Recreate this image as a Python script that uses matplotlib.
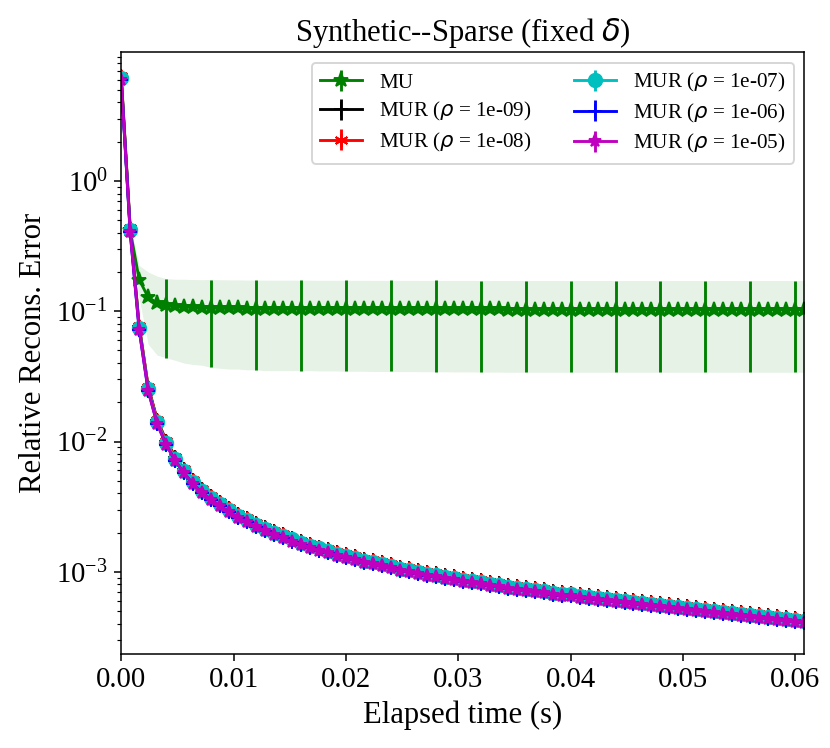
import numpy as np
import matplotlib.pyplot as plt

plt.rcParams['font.family'] = ['Liberation Serif', 'DejaVu Serif']
plt.rcParams['mathtext.fontset'] = 'dejavusans'

# time step between iterations (s) and iteration count
dt = 0.0008
n_iter = 77

# MU: mean and std of relative reconstruction error
mu_mean = [6.2, 0.42, 0.175, 0.128, 0.116, 0.111, 0.109, 0.108, 0.107, 0.1065,
           0.106, 0.1055, 0.105, 0.105, 0.1045, 0.1045, 0.104, 0.104, 0.104, 0.104,
           0.104, 0.104, 0.1038, 0.1038, 0.1038, 0.1036, 0.1036, 0.1036, 0.1035, 0.1035,
           0.1035, 0.1034, 0.1034, 0.1034, 0.1033, 0.1033, 0.1033, 0.1032, 0.1032, 0.1032,
           0.1031, 0.1031, 0.1031, 0.103, 0.103, 0.103, 0.103, 0.103, 0.103, 0.103,
           0.103, 0.103, 0.103, 0.103, 0.103, 0.103, 0.103, 0.103, 0.103, 0.103,
           0.103, 0.103, 0.103, 0.103, 0.103, 0.103, 0.103, 0.103, 0.103, 0.103,
           0.103, 0.103, 0.103, 0.103, 0.103, 0.103, 0.103]
mu_std = [0.0, 0.03, 0.05, 0.072, 0.07, 0.067, 0.067, 0.068, 0.068, 0.068,
          0.069, 0.069, 0.069, 0.069, 0.069, 0.069, 0.069, 0.069, 0.069, 0.069,
          0.069, 0.069, 0.069, 0.069, 0.069, 0.069, 0.069, 0.069, 0.069, 0.069,
          0.069, 0.069, 0.069, 0.069, 0.069, 0.069, 0.069, 0.069, 0.069, 0.069,
          0.069, 0.069, 0.069, 0.069, 0.069, 0.069, 0.069, 0.069, 0.069, 0.069,
          0.069, 0.069, 0.069, 0.069, 0.069, 0.069, 0.069, 0.069, 0.069, 0.069,
          0.069, 0.069, 0.069, 0.069, 0.069, 0.069, 0.069, 0.069, 0.069, 0.069,
          0.069, 0.069, 0.069, 0.069, 0.069, 0.069, 0.069]

# MUR: mean error (curves for all rho nearly coincide)
mur_mean = [6.2, 0.42, 0.075, 0.0255, 0.0142, 0.0098, 0.0074, 0.0059, 0.0049, 0.0042,
            0.0037, 0.0033, 0.0030, 0.0027, 0.00248, 0.00230, 0.00214, 0.00200, 0.00188, 0.00177,
            0.00167, 0.00159, 0.00151, 0.00144, 0.00138, 0.00132, 0.00127, 0.00122, 0.00118, 0.00114,
            0.00110, 0.00106, 0.00103, 0.00100, 0.00097, 0.00094, 0.00092, 0.00089, 0.00087, 0.00085,
            0.00083, 0.00081, 0.00079, 0.00077, 0.00075, 0.00074, 0.00072, 0.00071, 0.00069, 0.00068,
            0.000670, 0.000657, 0.000645, 0.000633, 0.000621, 0.000609, 0.000598, 0.000587, 0.000576, 0.000565,
            0.000555, 0.000545, 0.000535, 0.000525, 0.000516, 0.000507, 0.000498, 0.000489, 0.000481, 0.000473,
            0.000465, 0.000457, 0.000449, 0.000441, 0.000434, 0.000427, 0.000420]

rhos = ['1e-09', '1e-08', '1e-07', '1e-06', '1e-05']
rho_ratio = [1.035, 1.035, 1.0, 0.965, 0.965]  # slight vertical spread between rho curves
rho_colors = ['k', 'r', 'c', 'b', 'm']
rho_markers = ['+', (6, 2, 0), 'o', '+', '*']

t = np.arange(n_iter) * dt

fig, ax = plt.subplots(figsize=(830 / 138, 748 / 138), dpi=138)

mu_mean = np.array(mu_mean)
mu_std = np.array(mu_std)
ax.errorbar(t, mu_mean, yerr=mu_std, color='g', marker='*', ms=8, lw=1.5,
            errorevery=5, label='MU')
ax.fill_between(t, mu_mean - mu_std, mu_mean + mu_std, color='g', alpha=0.1, lw=0)

for rho, r, c, m in zip(rhos, rho_ratio, rho_colors, rho_markers):
    y = np.array(mur_mean) * r
    ax.errorbar(t, y, yerr=np.zeros_like(y), color=c, marker=m, ms=7, lw=1.5,
                errorevery=5, label=r'MUR ($\rho$ = %s)' % rho)

ax.set_yscale('log')
ax.set_xlim(0, t[-1])
ax.set_ylim(2.35e-4, 9.7)
ax.set_xlabel('Elapsed time (s)', fontsize=16)
ax.set_ylabel('Relative Recons. Error', fontsize=16)
ax.set_title(r'Synthetic--Sparse (fixed $\delta$)', fontsize=16)
ax.tick_params(labelsize=15)
ax.legend(loc='upper right', ncol=2, fontsize=11, labelspacing=0.35)

fig.subplots_adjust(left=0.146, right=0.969, top=0.930, bottom=0.126)
fig.savefig('out.png')
